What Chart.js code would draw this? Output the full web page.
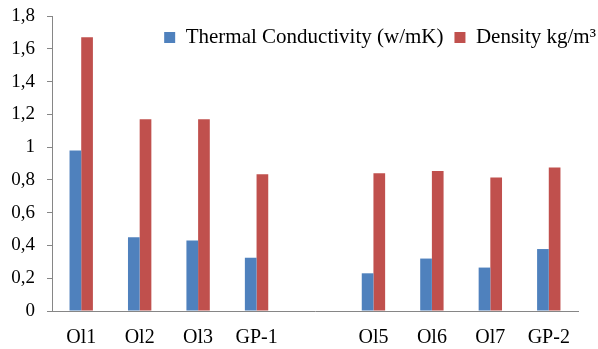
<!DOCTYPE html>
<html lang="en">
<head>
  <meta charset="UTF-8">
  <title>Thermal Conductivity and Density</title>
  <script src="https://cdn.jsdelivr.net/npm/chart.js"></script>
  <style>
    body {
      margin: 0;
      background: #fff;
    }

    .chart-box {
      width: 598px;
      height: 349px;
      position: relative;
    }
  </style>
</head>
<body>

  <div class="chart-box">
    <canvas id="propChart"></canvas>
  </div>

  <script>
    const categories = ['Ol1', 'Ol2', 'Ol3', 'GP-1', '', 'Ol5', 'Ol6', 'Ol7', 'GP-2'];
    const conductivity = [0.98, 0.45, 0.43, 0.325, null, 0.23, 0.32, 0.265, 0.378];
    const density = [1.67, 1.17, 1.17, 0.835, null, 0.84, 0.855, 0.815, 0.875];
    const yTickLabels = ['0', '0,2', '0,4', '0,6', '0,8', '1', '1,2', '1,4', '1,6', '1,8'];

    const axisGrey = '#868686';
    const serif = "'Liberation Serif', 'Times New Roman', serif";

    // legend sits inside the plot, over the bars, like the original
    const legendInPlot = {
      id: 'legendInPlot',
      beforeLayout(chart) {
        const lg = chart.legend;
        if (lg && !lg._flat) {
          const fit = lg.fit;
          lg.fit = function () {
            fit.call(this);
            this.height = 0;
          };
          lg._flat = true;
        }
      },
      afterLayout(chart) {
        const lg = chart.legend;
        lg.right = chart.width + 9;
        lg.top = 16;
        lg.bottom = lg.top + 40;
      }
    };

    new Chart(document.getElementById('propChart'), {
      type: 'bar',
      data: {
        labels: categories,
        datasets: [{
          label: 'Thermal Conductivity (w/mK)',
          data: conductivity,
          backgroundColor: '#4F81BD'
        }, {
          label: 'Density kg/m³',
          data: density,
          backgroundColor: '#C0504D'
        }]
      },
      options: {
        responsive: true,
        maintainAspectRatio: false,
        animation: false,
        categoryPercentage: 0.4,
        barPercentage: 1.0,
        layout: {
          padding: { top: 16, right: 20, left: 0, bottom: 0 }
        },
        plugins: {
          tooltip: { enabled: false },
          legend: {
            position: 'top',
            align: 'end',
            labels: {
              boxWidth: 11,
              boxHeight: 11,
              padding: 11,
              color: '#000',
              font: { family: serif, size: 21 }
            }
          }
        },
        scales: {
          x: {
            grid: { display: false },
            border: { display: true, color: axisGrey, width: 1 },
            ticks: {
              color: '#000',
              padding: 7,
              maxRotation: 0,
              autoSkip: false,
              font: { family: serif, size: 20 }
            },
            afterFit(scale) { scale.height = 38; }
          },
          y: {
            min: 0,
            max: 1.8,
            grid: {
              drawOnChartArea: false,
              drawTicks: true,
              tickLength: 5,
              color: axisGrey
            },
            border: { display: true, color: axisGrey, width: 1 },
            ticks: {
              stepSize: 0.2,
              color: '#000',
              padding: 12,
              font: { family: serif, size: 19 },
              callback: (value, i) => yTickLabels[i]
            },
            afterFit(scale) {
              scale.width = 52;
              scale.paddingTop = 0;
              scale.paddingBottom = 0;
            }
          }
        }
      },
      plugins: [legendInPlot]
    });
  </script>

</body>
</html>
